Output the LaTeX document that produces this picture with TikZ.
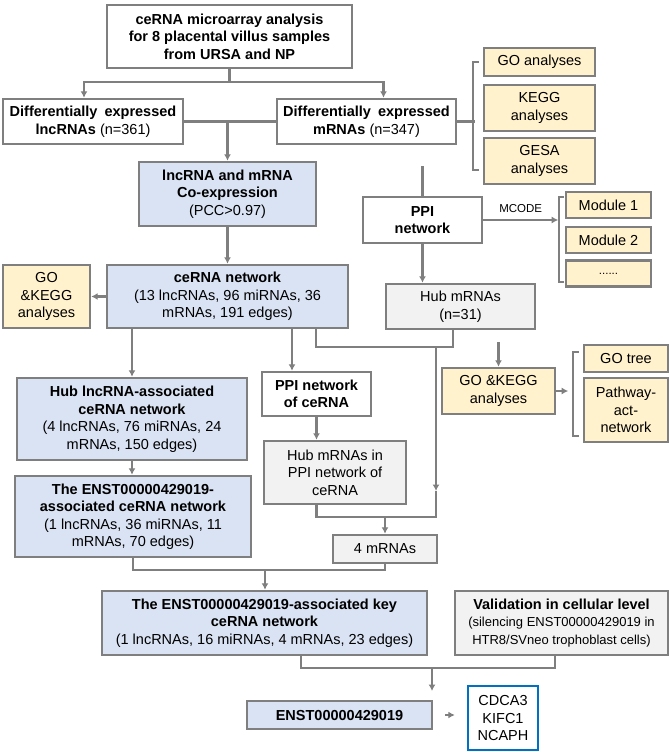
\documentclass[tikz,border=0pt]{standalone}
\usepackage{fontspec}
\setmainfont{Liberation Sans}
\usepackage{tikz}
\usetikzlibrary{positioning,arrows.meta}
\definecolor{edgegray}{HTML}{7F7F7F}
\definecolor{netblue}{HTML}{DAE3F3}
\definecolor{anayellow}{HTML}{FFF2CC}
\definecolor{hubgray}{HTML}{F2F2F2}
\definecolor{geneblue}{HTML}{0070C0}
\newcommand{\bodysize}{\fontsize{14.5}{17.5}\selectfont}
\newcommand{\notesize}{\fontsize{13}{17.5}\selectfont}
\newcommand{\tagsize}{\fontsize{11.5}{13}\selectfont}
\tikzset{
  box/.style={draw=edgegray, line width=2.4pt, align=center, inner sep=0pt, font=\bodysize},
  plainbox/.style={box, fill=white},
  netbox/.style={box, fill=netblue},
  anabox/.style={box, fill=anayellow},
  hubbox/.style={box, fill=hubgray},
  genebox/.style={box, draw=geneblue, fill=white},
  fwd/.style={-{Latex[length=6.5pt,width=7pt]}, draw=edgegray, line width=2.2pt},
  link/.style={draw=edgegray, line width=2.2pt},
}

\begin{document}
\begin{tikzpicture}[x=1pt,y=-1pt]
  \useasboundingbox (0,0) rectangle (669,752);

  % top of the flow
  \node[plainbox, minimum width=245pt, minimum height=63pt] (array) at (229.5,36.5)
    {\textbf{ceRNA microarray analysis}\\\textbf{for 8 placental villus samples}\\\textbf{from URSA and NP}};
  \node[plainbox, minimum width=180pt, minimum height=45pt] (diflnc) at (93,121.5)
    {\textbf{Differentially\hspace{3pt} expressed}\\\textbf{lncRNAs} (n=361)};
  \node[plainbox, minimum width=179pt, minimum height=45pt] (difm) at (366.5,121.5)
    {\textbf{Differentially\hspace{3pt} expressed}\\\textbf{mRNAs} (n=347)};

  \coordinate (split) at (229.5,82);
  \draw[link] (array.south) -- (split);
  \draw[fwd] (split) -| ([xshift=-9pt]diflnc.north);
  \draw[fwd] (split) -| ([xshift=17pt]difm.north);

  % mRNA enrichment
  \node[anabox, minimum width=111pt, minimum height=28pt] (goa) at (539.5,62) {GO analyses};
  \node[anabox, minimum width=111pt, minimum height=46pt] (kegg) at (539.5,108) {KEGG\\analyses};
  \node[anabox, minimum width=111pt, minimum height=46pt] (gesa) at (539.5,161) {GESA\\analyses};
  \draw[link] (difm.east) -- ++(18,0);
  \draw[link] ([xshift=-4pt]goa.west) -- ++(-6,0) |- ([xshift=-4pt,yshift=-9pt]gesa.west);

  % co-expression
  \node[netbox, minimum width=177pt, minimum height=64pt] (coexp) at (227.5,194)
    {\textbf{lncRNA and mRNA}\\\textbf{Co-expression}\\(PCC>0.97)};
  \draw[link] (diflnc.east) -- (difm.west);
  \draw[fwd] (diflnc.east -| coexp.north) -- (coexp.north);

  % PPI branch
  \node[plainbox, minimum width=119pt, minimum height=46pt] (ppi) at (422.5,220)
    {\textbf{PPI}\\\textbf{network}};
  \coordinate (ppitop) at (422.5,166);
  \draw[link] (ppitop) -- (ppi.north);
  \node[anabox, minimum width=85pt, minimum height=26pt] (mod1) at (608.5,205) {Module 1};
  \node[anabox, minimum width=85pt, minimum height=26pt] (mod2) at (608.5,240) {Module 2};
  \node[anabox, minimum width=85pt, minimum height=26pt] (dots) at (608.5,273.5) {\tagsize ......};
  \draw[fwd] (ppi.east) -- ++(75,0) node[midway, above=3pt, font=\tagsize] {MCODE};
  \draw[link] ([xshift=-1pt,yshift=-6pt]mod1.north west) -- ++(-5,0) |- ([xshift=-1pt,yshift=6pt]dots.south west);

  \node[hubbox, minimum width=149pt, minimum height=45pt] (hubm) at (460.5,306.5) {Hub mRNAs\\(n=31)};
  \draw[fwd] (ppi.south) -- (ppi.south |- hubm.north);

  % ceRNA network
  \node[netbox, minimum width=241pt, minimum height=63pt] (cerna) at (227.5,296.5)
    {\textbf{ceRNA network}\\(13 lncRNAs, 96 miRNAs, 36\\mRNAs, 191 edges)};
  \node[anabox, minimum width=87pt, minimum height=63pt] (gol) at (46.5,296.5) {GO\\\&KEGG\\analyses};
  \draw[fwd] (coexp.south) -- (cerna.north);
  \draw[fwd] (cerna.west) -- (gol.east);

  \coordinate (join1) at (436,347);
  \coordinate (join1tip) at (436,491);
  \draw[link] ([xshift=-33pt]cerna.south east) |- (join1) -| ([xshift=-7.5pt]hubm.south);
  \draw[fwd] (join1) -- (join1tip);

  % hub mRNA enrichment
  \node[anabox, minimum width=113pt, minimum height=46pt] (gor) at (498.5,391) {GO \&KEGG\\analyses};
  \node[anabox, minimum width=84pt, minimum height=27pt] (gotree) at (626,358.5) {GO tree};
  \node[anabox, minimum width=84pt, minimum height=64pt] (pathway) at (626,410) {Pathway-\\act-\\network};
  \coordinate (gotip) at (498.5,342);
  \draw[fwd] (gotip) -- (gor.north);
  \draw[fwd] (gor.east) -- ++(12,0);
  \draw[link] ([xshift=-4pt,yshift=-8pt]gotree.north west) -- ++(-6,0) |- ([xshift=-4pt,yshift=7pt]pathway.south west);

  % left column
  \node[netbox, minimum width=230pt, minimum height=82pt] (hubl) at (132,419)
    {\textbf{Hub lncRNA-associated}\\\textbf{ceRNA network}\\(4 lncRNAs, 76 miRNAs, 24\\mRNAs, 150 edges)};
  \node[netbox, minimum width=236pt, minimum height=81pt] (enst) at (133,516.5)
    {\textbf{The ENST00000429019-}\\\textbf{associated ceRNA network}\\(1 lncRNAs, 36 miRNAs, 11\\mRNAs, 70 edges)};
  \draw[fwd] (cerna.south -| hubl.north) -- (hubl.north);
  \draw[fwd] (hubl.south) -- (hubl.south |- enst.north);

  % middle column
  \node[plainbox, minimum width=109pt, minimum height=44pt] (ppic) at (316.5,394)
    {\textbf{PPI network}\\\textbf{of ceRNA}};
  \node[hubbox, minimum width=142pt, minimum height=63pt] (hubppi) at (335,472.5)
    {Hub mRNAs in\\PPI network of\\ceRNA};
  \node[hubbox, minimum width=104pt, minimum height=28pt] (four) at (385,549) {4 mRNAs};
  \draw[fwd] ([xshift=-24.5pt]ppic.north |- cerna.south) -- ([xshift=-24.5pt]ppic.north);
  \draw[fwd] (ppic.south) -- (ppic.south |- hubppi.north);

  \coordinate (join2) at (436,517);
  \draw[link] (ppic.south |- hubppi.south) |- (join2) -- (join1tip);
  \draw[fwd] (four.north |- join2) -- (four.north);

  % key network
  \node[netbox, minimum width=325pt, minimum height=64pt] (key) at (264.5,623)
    {\textbf{The ENST00000429019-associated key}\\\textbf{ceRNA network}\\(1 lncRNAs, 16 miRNAs, 4 mRNAs, 23 edges)};
  \node[hubbox, minimum width=213pt, minimum height=64pt] (valid) at (561.5,623)
    {\textbf{Validation in cellular level}\\{\notesize (silencing ENST00000429019 in}\\{\notesize HTR8/SVneo trophoblast cells)}};

  \coordinate (join3) at (265,570);
  \draw[link] (enst.south) |- (join3) -| (four.south);
  \draw[fwd] (join3) -- (join3 |- key.north);

  % result
  \node[netbox, minimum width=185pt, minimum height=28pt] (enstb) at (339.5,715) {\textbf{ENST00000429019}};
  \node[genebox, minimum width=70pt, minimum height=64pt] (genes) at (503,718) {CDCA3\\KIFC1\\NCAPH};

  \coordinate (join4) at (432,668);
  \draw[link] ([xshift=36.5pt]key.south) |- (join4) -| ([xshift=-6.5pt]valid.south);
  \draw[fwd] (join4) -- ++(0,23);
  \draw[fwd, line width=1.5pt, shorten <=12pt, shorten >=12pt] (enstb.east) -- (enstb.east -| genes.west);

\end{tikzpicture}
\end{document}
